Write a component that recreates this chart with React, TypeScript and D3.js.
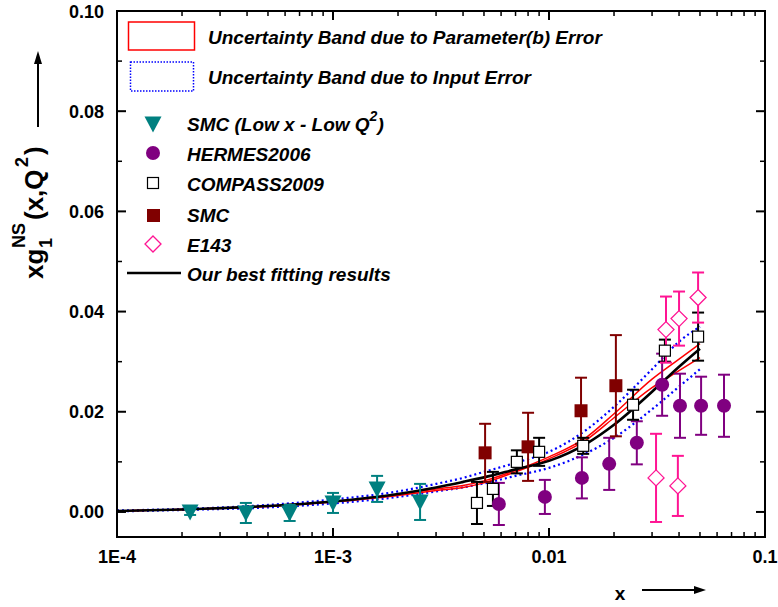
import React from "react";
import * as d3 from "d3";

// ---------- data ----------
const curveX = [1e-4, 2e-4, 5e-4, 1e-3, 2e-3, 3e-3, 4e-3, 5e-3, 7e-3, 0.01, 0.015, 0.02, 0.03, 0.04, 0.05];
const bestFit = [0.0002, 0.0005, 0.0012, 0.0021, 0.0036, 0.0049, 0.006, 0.0069, 0.0085, 0.0102, 0.0137, 0.0174, 0.024, 0.029, 0.0326];
const paramUpper = [0.0002, 0.0005, 0.0012, 0.0021, 0.0035, 0.0046, 0.0053, 0.0062, 0.0083, 0.011, 0.015, 0.0196, 0.0265, 0.0305, 0.0336];
const paramLower = [0.0002, 0.0005, 0.0011, 0.002, 0.0033, 0.0043, 0.0049, 0.0058, 0.008, 0.0106, 0.0145, 0.0188, 0.0248, 0.0282, 0.0308];
const inputUpper = [0.0003, 0.0006, 0.0014, 0.0025, 0.0041, 0.0056, 0.0068, 0.008, 0.0098, 0.012, 0.0165, 0.021, 0.0285, 0.034, 0.037];
const inputLower = [0.0001, 0.0004, 0.0009, 0.0017, 0.003, 0.0041, 0.0049, 0.0057, 0.0072, 0.0088, 0.0118, 0.0148, 0.0205, 0.025, 0.0285];

const smcLowX = [2.18e-4, 3.95e-4, 6.3e-4, 1.0e-3, 1.6e-3, 2.53e-3];
const smcLowY = [0.0, -0.0002, -0.0002, 0.0018, 0.0046, 0.002];
const smcLowE = [0.0006, 0.002, 0.0016, 0.002, 0.0026, 0.0036];

const hermesX = [5.86e-3, 9.57e-3, 0.0142, 0.019, 0.0255, 0.0334, 0.0404, 0.0506, 0.0646];
const hermesY = [0.0016, 0.003, 0.0068, 0.0096, 0.0138, 0.0254, 0.0212, 0.0212, 0.0212];
const hermesE = [0.0042, 0.0034, 0.0041, 0.0052, 0.0043, 0.0062, 0.0064, 0.0058, 0.0062];

const compassX = [4.64e-3, 5.5e-3, 7.1e-3, 9.0e-3, 0.0144, 0.0245, 0.0344, 0.049];
const compassY = [0.0018, 0.0046, 0.01, 0.012, 0.0132, 0.0214, 0.0322, 0.035];
const compassE = [0.0042, 0.0034, 0.0023, 0.0028, 0.0016, 0.003, 0.0022, 0.0048];

const smcX = [5.06e-3, 8.0e-3, 0.01407, 0.0204];
const smcY = [0.0118, 0.013, 0.0202, 0.0252];
const smcE = [0.0058, 0.0068, 0.0066, 0.0101];

const e143X = [0.0313, 0.0348, 0.0395, 0.04, 0.049];
const e143Y = [0.0068, 0.0364, 0.0052, 0.0386, 0.0428];
const e143E = [0.0088, 0.0066, 0.006, 0.0054, 0.005];

const yTicks = [0, 0.02, 0.04, 0.06, 0.08, 0.1];
const yTickLabels = ["0.00", "0.02", "0.04", "0.06", "0.08", "0.10"];
const xTicks = [1e-4, 1e-3, 0.01, 0.1];
const xTickLabels = ["1E-4", "1E-3", "0.01", "0.1"];

// ---------- layout ----------
const L = 117, R = 765, T = 11, B = 537;
const FONT = "'Liberation Sans', Arial, Helvetica, sans-serif";
const TEAL = "#008080", PURPLE = "#800080", DRED = "#800000", PINK = "#FF1493";

const xs = d3.scaleLog().domain([1e-4, 0.1]).range([L, R]);
const ys = d3.scaleLinear().domain([-0.005, 0.1]).range([B, T]);

const line = d3
  .line<[number, number]>()
  .x((d) => xs(d[0]))
  .y((d) => ys(d[1]))
  .curve(d3.curveMonotoneX);

const path = (vals: number[]) => line(curveX.map((xv, i) => [xv, vals[i]] as [number, number])) || "";

function ErrBar({ x, y, e, color }: { x: number; y: number; e: number; color: string }) {
  const px = xs(x);
  const y1 = ys(y + e), y2 = ys(y - e);
  return (
    <g stroke={color} strokeWidth={2}>
      <line x1={px} x2={px} y1={y1} y2={y2} />
      <line x1={px - 6} x2={px + 6} y1={y1} y2={y1} />
      <line x1={px - 6} x2={px + 6} y1={y2} y2={y2} />
    </g>
  );
}

const tri = (cx: number, cy: number) => `M${cx - 8.5},${cy - 7.5}L${cx + 8.5},${cy - 7.5}L${cx},${cy + 8.5}Z`;
const diamond = (cx: number, cy: number) => `M${cx},${cy - 8}L${cx + 8},${cy}L${cx},${cy + 8}L${cx - 8},${cy}Z`;

export default function App() {
  const minorX: number[] = [];
  [1e-4, 1e-3, 1e-2].forEach((d) => {
    for (let k = 2; k <= 9; k++) minorX.push(d * k);
  });
  const minorY = [0.01, 0.03, 0.05, 0.07, 0.09];

  return (
    <svg width={778} height={607} style={{ display: "block", position: "absolute", left: 0, top: 0 }} fontFamily={FONT}>
      <rect x={0} y={0} width={778} height={607} fill="#fff" />

      {/* bands & best fit */}
      <g fill="none">
        <path d={path(inputUpper)} stroke="#0000FF" strokeWidth={2.2} strokeDasharray="2,3" />
        <path d={path(inputLower)} stroke="#0000FF" strokeWidth={2.2} strokeDasharray="2,3" />
        <path d={path(paramUpper)} stroke="#FF0000" strokeWidth={1.5} />
        <path d={path(paramLower)} stroke="#FF0000" strokeWidth={1.5} />
        <path d={path(bestFit)} stroke="#000" strokeWidth={2.6} />
      </g>

      {/* error bars */}
      {smcLowX.map((xv, i) => <ErrBar key={"se" + i} x={xv} y={smcLowY[i]} e={smcLowE[i]} color={TEAL} />)}
      {hermesX.map((xv, i) => <ErrBar key={"he" + i} x={xv} y={hermesY[i]} e={hermesE[i]} color={PURPLE} />)}
      {smcX.map((xv, i) => <ErrBar key={"me" + i} x={xv} y={smcY[i]} e={smcE[i]} color={DRED} />)}
      {compassX.map((xv, i) => <ErrBar key={"ce" + i} x={xv} y={compassY[i]} e={compassE[i]} color="#000" />)}
      {e143X.map((xv, i) => <ErrBar key={"ee" + i} x={xv} y={e143Y[i]} e={e143E[i]} color={PINK} />)}

      {/* markers */}
      {smcLowX.map((xv, i) => <path key={"sm" + i} d={tri(xs(xv), ys(smcLowY[i]))} fill={TEAL} />)}
      {hermesX.map((xv, i) => <circle key={"hm" + i} cx={xs(xv)} cy={ys(hermesY[i])} r={7} fill={PURPLE} />)}
      {smcX.map((xv, i) => <rect key={"mm" + i} x={xs(xv) - 6.5} y={ys(smcY[i]) - 6.5} width={13} height={13} fill={DRED} />)}
      {compassX.map((xv, i) => (
        <rect key={"cm" + i} x={xs(xv) - 5.5} y={ys(compassY[i]) - 5.5} width={11} height={11} fill="#fff" stroke="#000" strokeWidth={1.2} />
      ))}
      {e143X.map((xv, i) => (
        <path key={"em" + i} d={diamond(xs(xv), ys(e143Y[i]))} fill="#fff" stroke={PINK} strokeWidth={1.3} />
      ))}

      {/* frame */}
      <rect x={L} y={T} width={R - L} height={B - T} fill="none" stroke="#000" strokeWidth={2} />
      {xTicks.map((t) => (
        <g key={"xt" + t} stroke="#000" strokeWidth={2}>
          <line x1={xs(t)} x2={xs(t)} y1={B} y2={B - 9} />
          <line x1={xs(t)} x2={xs(t)} y1={T} y2={T + 9} />
        </g>
      ))}
      {minorX.map((t) => (
        <g key={"xm" + t} stroke="#000" strokeWidth={1.5}>
          <line x1={xs(t)} x2={xs(t)} y1={B} y2={B - 5} />
          <line x1={xs(t)} x2={xs(t)} y1={T} y2={T + 5} />
        </g>
      ))}
      {yTicks.map((t) => (
        <g key={"yt" + t} stroke="#000" strokeWidth={2}>
          <line x1={L} x2={L + 9} y1={ys(t)} y2={ys(t)} />
          <line x1={R} x2={R - 9} y1={ys(t)} y2={ys(t)} />
        </g>
      ))}
      {minorY.map((t) => (
        <g key={"ym" + t} stroke="#000" strokeWidth={1.5}>
          <line x1={L} x2={L + 5} y1={ys(t)} y2={ys(t)} />
          <line x1={R} x2={R - 5} y1={ys(t)} y2={ys(t)} />
        </g>
      ))}

      {/* tick labels */}
      <g fontWeight="bold" fontSize={18} fill="#000">
        {yTicks.map((t, i) => (
          <text key={"yl" + t} x={L - 13} y={ys(t) + 6.5} textAnchor="end">{yTickLabels[i]}</text>
        ))}
        {xTicks.map((t, i) => (
          <text key={"xl" + t} x={xs(t)} y={563} textAnchor="middle">{xTickLabels[i]}</text>
        ))}
      </g>

      {/* axis titles */}
      <text x={620} y={600} fontWeight="bold" fontSize={19} textAnchor="middle">x</text>
      <line x1={642} x2={698} y1={590} y2={590} stroke="#000" strokeWidth={2} />
      <path d="M706,590L694,586L694,594Z" fill="#000" />

      <g transform="translate(43,279) rotate(-90)" fontWeight="bold" fontSize={26}>
        <text x={0} y={0}>xg</text>
        <text x={31} y={9} fontSize={18}>1</text>
        <text x={31} y={-18} fontSize={18}>NS</text>
        <text x={59} y={0}>(x,Q</text>
        <text x={112} y={-15} fontSize={18}>2</text>
        <text x={124} y={0}>)</text>
      </g>
      <line x1={38} x2={38} y1={127} y2={62} stroke="#000" strokeWidth={2} />
      <path d="M38,51L34,64L42,64Z" fill="#000" />

      {/* legend */}
      <rect x={128.5} y={22} width={66} height={28} fill="none" stroke="#FF0000" strokeWidth={1.5} />
      <rect x={130.5} y={62} width={63} height={29} fill="none" stroke="#0000FF" strokeWidth={1.5} strokeDasharray="1.5,1.5" />
      <g fontWeight="bold" fontStyle="italic" fontSize={19} fill="#000">
        <text x={208} y={44}>Uncertainty Band due to Parameter(b) Error</text>
        <text x={208} y={84}>Uncertainty Band due to Input Error</text>
        <text x={187} y={131}>
          SMC (Low x - Low Q<tspan dy={-10} fontSize={14}>2</tspan><tspan dy={10}>)</tspan>
        </text>
        <text x={187} y={161}>HERMES2006</text>
        <text x={187} y={191}>COMPASS2009</text>
        <text x={187} y={222}>SMC</text>
        <text x={187} y={252}>E143</text>
        <text x={187} y={281}>Our best fitting results</text>
      </g>
      <path d={tri(153, 124)} fill={TEAL} />
      <circle cx={153} cy={153} r={7} fill={PURPLE} />
      <rect x={147.5} y={177.5} width={11} height={11} fill="#fff" stroke="#000" strokeWidth={1.2} />
      <rect x={147} y={209} width={13} height={13} fill={DRED} />
      <path d={diamond(153, 244)} fill="#fff" stroke={PINK} strokeWidth={1.3} />
      <line x1={127} x2={181} y1={273} y2={273} stroke="#000" strokeWidth={2.6} />
    </svg>
  );
}
